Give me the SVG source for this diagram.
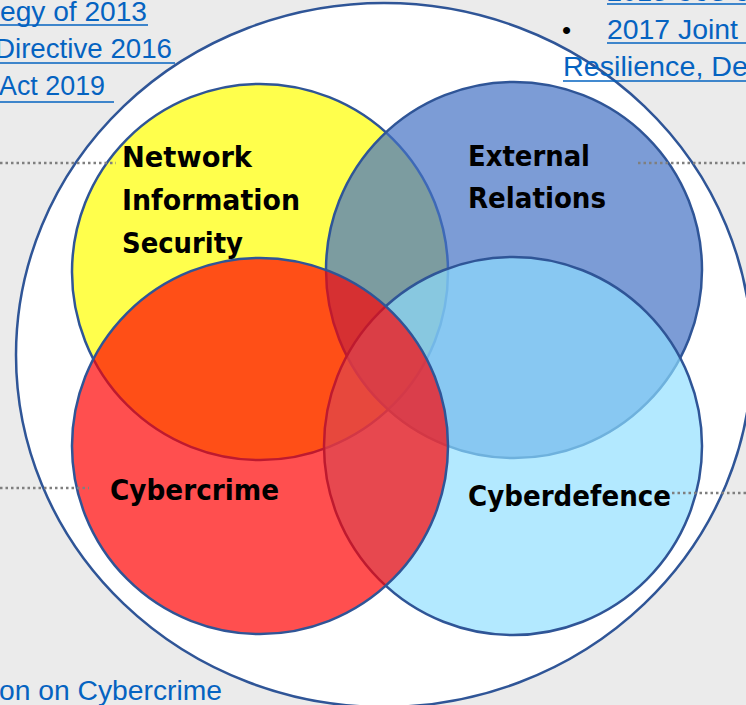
<svg xmlns="http://www.w3.org/2000/svg" width="746" height="705" viewBox="0 0 746 705">
<style>
.bg{fill:#ebebeb}
.outer{fill:#ffffff;stroke:#2f5597;stroke-width:2.5}
.c{stroke:#2f5597;stroke-width:2.5}
.lbl{font-family:"DejaVu Sans",sans-serif;font-weight:bold;font-size:28px;fill:#000000}
.lnk{font-family:"Liberation Sans",Arial,sans-serif;font-size:27px;fill:#0563c1}
.ul{stroke:#0563c1;stroke-width:1.6;fill:none}
.dot{stroke:#7f7f7f;stroke-width:2.5;stroke-dasharray:2.5 3;fill:none}
</style>
<rect class="bg" x="0" y="0" width="746" height="705"/>
<g id="outer-scope">
  <ellipse class="outer" cx="384" cy="355" rx="368" ry="352"/>
</g>
<g id="links">
  <text class="lnk" x="0" y="21" textLength="147" lengthAdjust="spacingAndGlyphs">egy of 2013</text>
  <line class="ul" x1="0" y1="25" x2="148" y2="25"/>
  <text class="lnk" x="-5" y="58" textLength="177" lengthAdjust="spacingAndGlyphs">Directive 2016</text>
  <line class="ul" x1="0" y1="63" x2="175" y2="63"/>
  <text class="lnk" x="-1" y="95" textLength="106" lengthAdjust="spacingAndGlyphs">Act 2019</text>
  <line class="ul" x1="0" y1="102" x2="114" y2="102"/>
  <text class="lnk" x="607" y="1">2013 CoS of</text>
  <line class="ul" x1="607" y1="4" x2="746" y2="4"/>
  <text x="562" y="39" style="font-family:'Liberation Sans',Arial,sans-serif;font-size:26px;fill:#000">•</text>
  <text class="lnk" x="607" y="39" textLength="131" lengthAdjust="spacingAndGlyphs">2017 Joint</text>
  <line class="ul" x1="607" y1="43" x2="746" y2="43"/>
  <text class="lnk" x="563" y="76" textLength="193" lengthAdjust="spacingAndGlyphs">Resilience, Det</text>
  <line class="ul" x1="563" y1="81" x2="746" y2="81"/>
  <text class="lnk" x="-1" y="700" textLength="223" lengthAdjust="spacingAndGlyphs">on on Cybercrime</text>
</g>
<g id="nis">
  <circle class="c" cx="260" cy="272" r="188" fill="#ffff00" fill-opacity="0.7"/>
  <text class="lbl" x="122" y="167" textLength="130" lengthAdjust="spacingAndGlyphs">Network</text>
  <text class="lbl" x="122" y="210" textLength="178" lengthAdjust="spacingAndGlyphs">Information</text>
  <text class="lbl" x="122" y="253" textLength="121" lengthAdjust="spacingAndGlyphs">Security</text>
</g>
<g id="external-relations">
  <circle class="c" cx="514" cy="270" r="188" fill="#4472c4" fill-opacity="0.7"/>
  <text class="lbl" x="468" y="166" textLength="122" lengthAdjust="spacingAndGlyphs">External</text>
  <text class="lbl" x="468" y="208" textLength="138" lengthAdjust="spacingAndGlyphs">Relations</text>
</g>
<g id="cyberdefence">
  <circle class="c" cx="513" cy="446" r="189" fill="#8edeff" fill-opacity="0.67"/>
  <text class="lbl" x="468" y="506" textLength="203" lengthAdjust="spacingAndGlyphs">Cyberdefence</text>
</g>
<g id="cybercrime">
  <circle class="c" cx="260" cy="446" r="188" fill="#ff0000" fill-opacity="0.69"/>
  <text class="lbl" x="110" y="500" textLength="169" lengthAdjust="spacingAndGlyphs">Cybercrime</text>
</g>
<g id="connectors">
  <line class="dot" x1="0" y1="163" x2="116" y2="163"/>
  <line class="dot" x1="638" y1="163" x2="746" y2="163"/>
  <line class="dot" x1="0" y1="488" x2="89" y2="488"/>
  <line class="dot" x1="672" y1="493" x2="746" y2="493"/>
</g>
</svg>
